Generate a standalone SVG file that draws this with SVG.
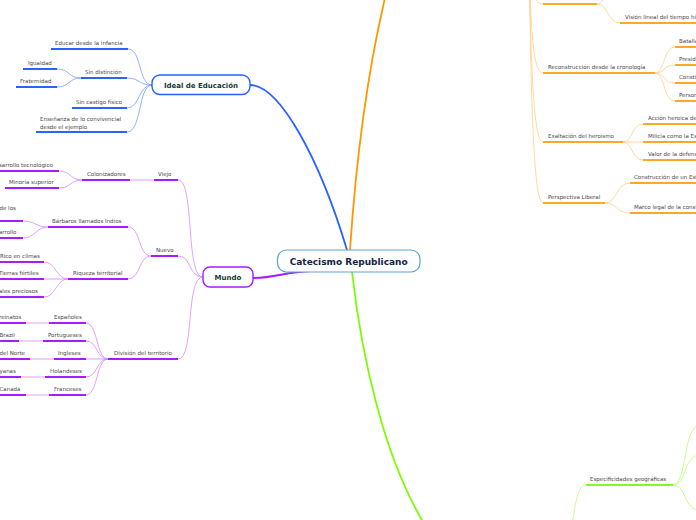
<svg xmlns="http://www.w3.org/2000/svg" width="696" height="520" viewBox="0 0 696 520">
<style>
.t{font-family:"DejaVu Sans",Verdana,sans-serif;font-size:5.5px;fill:#474747}
.nb{font-family:"DejaVu Sans",Verdana,sans-serif;font-weight:bold;fill:#113d33}
.ub{stroke:#2962ff;stroke-width:2;fill:none}
.cb{stroke:#7a9dff;stroke-width:0.8;fill:none}
.up{stroke:#a51cff;stroke-width:2;fill:none}
.cp{stroke:#d08cff;stroke-width:0.8;fill:none}
.uo{stroke:#ffa726;stroke-width:2;fill:none}
.co{stroke:#ffcf8a;stroke-width:0.8;fill:none}
.ug{stroke:#7dff1a;stroke-width:2;fill:none}
.cg{stroke:#b8ff70;stroke-width:0.8;fill:none}
</style>
<rect width="696" height="520" fill="#fff"/>
<g id="connectors">
  <!-- main branches -->
  <path d="M250,85 C280,85 320,160 347,250" stroke="#2962ff" stroke-width="1.8" fill="none"/>
  <path d="M350,250 C356,160 368,60 392,-30" stroke="#ff9800" stroke-width="1.8" fill="none"/>
  <path d="M352,272 C362,360 385,460 425,525" stroke="#7cfc00" stroke-width="1.8" fill="none"/>
  <path d="M253,278 C275,278 285,272 310,271" stroke="#a51cff" stroke-width="1.8" fill="none"/>
  <!-- blue -->
  <path class="cb" d="M152,85 C138,85 142,49 128,49"/>
  <path class="cb" d="M152,85 C138,85 140,78 127,78"/>
  <path class="cb" d="M152,85 C138,85 140,108 127,108"/>
  <path class="cb" d="M152,85 C138,85 142,132 127,132"/>
  <path class="cb" d="M81,78 C68,78 70,69 57,69"/>
  <path class="cb" d="M81,78 C68,78 70,87 57,87"/>
  <!-- purple -->
  <path class="cp" d="M203,277 C185,277 195,180 178,180"/>
  <path class="cp" d="M203,277 C188,277 192,256 178,256"/>
  <path class="cp" d="M203,277 C185,277 195,359 178,359"/>
  <path class="cp" d="M154,180 L130,180"/>
  <path class="cp" d="M82,180 C70,180 71,171 59,171"/>
  <path class="cp" d="M82,180 C70,180 71,188 59,188"/>
  <path class="cp" d="M151,256 C138,256 141,227 128,227"/>
  <path class="cp" d="M151,256 C138,256 141,279 128,279"/>
  <path class="cp" d="M48,227 C36,227 35,221 23,221"/>
  <path class="cp" d="M48,227 C36,227 35,238 23,238"/>
  <path class="cp" d="M68,279 C56,279 56,262 44,262"/>
  <path class="cp" d="M68,279 L44,279"/>
  <path class="cp" d="M68,279 C56,279 56,297 44,297"/>
  <path class="cp" d="M108,359 C96,359 98,323 86,323"/>
  <path class="cp" d="M108,359 C96,359 98,341 86,341"/>
  <path class="cp" d="M108,359 L86,359"/>
  <path class="cp" d="M108,359 C96,359 98,377 86,377"/>
  <path class="cp" d="M108,359 C96,359 98,395 86,395"/>
  <path class="cp" d="M49,323 L26,323"/>
  <path class="cp" d="M43,341 L19,341"/>
  <path class="cp" d="M54,359 L30,359"/>
  <path class="cp" d="M45,377 L21,377"/>
  <path class="cp" d="M49,395 L26,395"/>
  <!-- orange -->
  <path class="co" d="M529,-40 C531,-18 532,4 543,4"/>
  <path class="co" d="M529,-40 C531,20 532,73 543,73"/>
  <path class="co" d="M529,-40 C531,60 533,142 543,142"/>
  <path class="co" d="M529,-40 C531,90 533,203 543,203"/>
  <path class="co" d="M597,4 C605,4 604,-10 615,-14"/>
  <path class="co" d="M597,4 C608,4 608,23 620,23"/>
  <path class="co" d="M655,73 C665,73 663,47 675,47"/>
  <path class="co" d="M655,73 C665,73 663,65 675,65"/>
  <path class="co" d="M655,73 C665,73 663,83 675,83"/>
  <path class="co" d="M655,73 C665,73 663,101 675,101"/>
  <path class="co" d="M623,142 C633,142 631,124 643,124"/>
  <path class="co" d="M623,142 L643,142"/>
  <path class="co" d="M623,142 C633,142 631,160 643,160"/>
  <path class="co" d="M605,203 C617,203 616,183 630,183"/>
  <path class="co" d="M605,203 C617,203 616,213 630,213"/>
  <!-- green -->
  <path class="cg" d="M586,485 C578,485 576,500 572,525"/>
  <path class="cg" d="M673,485 C687,485 683,425 700,425"/>
  <path class="cg" d="M673,485 C687,485 683,455 700,455"/>
  <path class="cg" d="M673,485 C687,485 683,510 700,510"/>
</g>

<g id="central">
  <rect x="277.5" y="250" width="142.5" height="22" rx="9" fill="#fff" stroke="#5ba3d9" stroke-width="1.2"/>
  <text x="348.7" y="264.5" text-anchor="middle" class="nb" font-size="9" style="fill:#17233f">Catecismo Republicano</text>
</g>

<g id="ideal">
  <rect x="152" y="75" width="98" height="19.5" rx="8" fill="#fff" stroke="#2962ff" stroke-width="1.4"/>
  <text x="201" y="87.5" text-anchor="middle" class="nb" font-size="7">Ideal de Educación</text>
</g>
<g id="educar"><path class="ub" d="M51,49 H128"/><text class="t" x="55" y="44.5">Educar desde la infancia</text></g>
<g id="sindistincion"><path class="ub" d="M81,78 H127"/><text class="t" x="85" y="74">Sin distinción</text></g>
<g id="igualdad"><path class="ub" d="M23,69 H57"/><text class="t" x="28" y="65">Igualdad</text></g>
<g id="fraternidad"><path class="ub" d="M16,87 H57"/><text class="t" x="20" y="83">Fraternidad</text></g>
<g id="sincastigo"><path class="ub" d="M72,108 H127"/><text class="t" x="76" y="103.5">Sin castigo físico</text></g>
<g id="ensenanza"><path class="ub" d="M36,132 H127"/><text class="t" x="40" y="121">Enseñanza de lo convivencial</text><text class="t" x="40" y="129">desde el ejemplo</text></g>

<g id="mundo">
  <rect x="203" y="267" width="50" height="20" rx="7" fill="#fff" stroke="#a51cff" stroke-width="1.4"/>
  <text x="228" y="279.5" text-anchor="middle" class="nb" font-size="7">Mundo</text>
</g>
<g id="viejo"><path class="up" d="M154,180 H178"/><text class="t" x="158" y="175.5">Viejo</text></g>
<g id="colonizadores"><path class="up" d="M82,180 H130"/><text class="t" x="87" y="175.5">Colonizadores</text></g>
<g id="desarrollo"><path class="up" d="M0,171 H59"/><text class="t" x="-1" y="166.5">sarrollo tecnológico</text></g>
<g id="minoria"><path class="up" d="M5,188 H59"/><text class="t" x="9" y="183.5">Minoría superior</text></g>
<g id="nuevo"><path class="up" d="M151,256 H178"/><text class="t" x="156" y="251.5">Nuevo</text></g>
<g id="barbaros"><path class="up" d="M48,227 H128"/><text class="t" x="52" y="222.5">Bárbaros llamados Indios</text></g>
<g id="delos"><path class="up" d="M0,221 H23"/><text class="t" x="-0.5" y="210">de los</text></g>
<g id="arrollo"><path class="up" d="M0,238 H23"/><text class="t" x="-1" y="233.5">arrollo</text></g>
<g id="riqueza"><path class="up" d="M68,279 H128"/><text class="t" x="73" y="274.5">Riqueza territorial</text></g>
<g id="rico"><path class="up" d="M0,262 H44"/><text class="t" x="0" y="257.5">Rico en climas</text></g>
<g id="tierras"><path class="up" d="M0,279 H44"/><text class="t" x="-1" y="274.5">Tierras fértiles</text></g>
<g id="metales"><path class="up" d="M0,297 H44"/><text class="t" x="-1" y="292.5">ales preciosos</text></g>
<g id="division"><path class="up" d="M108,359 H178"/><text class="t" x="114" y="354.5">División del territorio</text></g>
<g id="espanoles"><path class="up" d="M49,323 H86"/><text class="t" x="54" y="318.5">Españoles</text></g>
<g id="virreinatos"><path class="up" d="M0,323 H26"/><text class="t" x="-1" y="318.5">reinatos</text></g>
<g id="portugueses"><path class="up" d="M43,341 H86"/><text class="t" x="48" y="336.5">Portugueses</text></g>
<g id="brazil"><path class="up" d="M0,341 H19"/><text class="t" x="-0.5" y="336.5">Brazil</text></g>
<g id="ingleses"><path class="up" d="M54,359 H86"/><text class="t" x="58" y="354.5">Ingleses</text></g>
<g id="norte"><path class="up" d="M0,359 H30"/><text class="t" x="-0.5" y="354.5">del Norte</text></g>
<g id="holandeses"><path class="up" d="M45,377 H86"/><text class="t" x="50" y="372.5">Holandeses</text></g>
<g id="guayanas"><path class="up" d="M0,377 H21"/><text class="t" x="-0.5" y="372.5">yanas</text></g>
<g id="franceses"><path class="up" d="M49,395 H86"/><text class="t" x="54" y="390.5">Franceses</text></g>
<g id="canada"><path class="up" d="M0,395 H26"/><text class="t" x="-0.5" y="390.5">Canadá</text></g>

<g id="orange-top"><path class="uo" d="M543,4 H597"/></g>
<g id="vision"><path class="uo" d="M620,23 H700"/><text class="t" x="625" y="18.5">Visión lineal del tiempo hi</text></g>
<g id="reconstruccion"><path class="uo" d="M543,73 H655"/><text class="t" x="548" y="68.5">Reconstrucción desde la cronología</text></g>
<g id="batalla"><path class="uo" d="M675,47 H700"/><text class="t" x="679" y="42.5">Batalla</text></g>
<g id="presid"><path class="uo" d="M675,65 H700"/><text class="t" x="679" y="60.5">Presid</text></g>
<g id="consti"><path class="uo" d="M675,83 H700"/><text class="t" x="679" y="78.5">Consti</text></g>
<g id="person"><path class="uo" d="M675,101 H700"/><text class="t" x="679" y="96.5">Person</text></g>
<g id="exaltacion"><path class="uo" d="M543,142 H623"/><text class="t" x="548" y="137.5">Exaltación del heroismo</text></g>
<g id="accion"><path class="uo" d="M643,124 H700"/><text class="t" x="648" y="119.5">Acción heroica de</text></g>
<g id="milicia"><path class="uo" d="M643,142 H700"/><text class="t" x="648" y="137.5">Milicia como la Es</text></g>
<g id="valor"><path class="uo" d="M643,160 H700"/><text class="t" x="648" y="155.5">Valor de la defens</text></g>
<g id="perspectiva"><path class="uo" d="M543,203 H605"/><text class="t" x="548" y="198.5">Perspectiva Liberal</text></g>
<g id="construccion"><path class="uo" d="M630,183 H700"/><text class="t" x="634" y="178.5">Construcción de un Est</text></g>
<g id="marco"><path class="uo" d="M630,213 H700"/><text class="t" x="634" y="208.5">Marco legal de la const</text></g>

<g id="especificidades"><path class="ug" d="M586,485 H673"/><text class="t" x="590" y="480.5">Especificidades geográficas</text></g>
</svg>
